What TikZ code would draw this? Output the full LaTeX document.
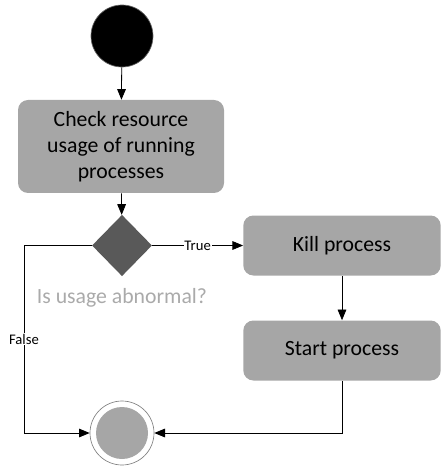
\documentclass[tikz,border=0pt]{standalone}
\usepackage{fontspec}
\setmainfont{Carlito}
\usetikzlibrary{arrows.meta,shapes.geometric}
\definecolor{boxgray}{HTML}{A6A6A6}
\definecolor{darkgray}{HTML}{595959}
\definecolor{lightgray}{HTML}{AAAAAA}
\begin{document}
\begin{tikzpicture}[x=0.75pt,y=-0.75pt,
  actbox/.style={draw=none,fill=boxgray,rounded corners=7.5pt,align=center,font=\fontsize{16.3}{19.5}\selectfont,inner sep=0pt},
  conn/.style={line width=0.6pt,-{Triangle[length=8pt,width=6.5pt]}},
  smalllabel/.style={font=\fontsize{11}{12}\selectfont,fill=white,inner sep=0.5pt}]
\useasboundingbox (0,0) rectangle (440,466);
\node[circle,fill=black,draw=black!60,line width=0.5pt,minimum size=46.5pt,inner sep=0pt] (start) at (122,36) {};
\node[actbox,minimum width=154.5pt,minimum height=69.75pt] (check) at (121,146.5) {Check resource\\usage of running\\processes};
\node[diamond,fill=darkgray,minimum width=45pt,minimum height=46pt,inner sep=0pt,aspect=1] (dec) at (122,245.5) {};
\node[font=\fontsize{16.3}{18}\selectfont,text=lightgray] (q) at (122,298) {Is usage abnormal?};
\node[actbox,minimum width=148pt,minimum height=45pt] (kill) at (342,245.5) {Kill process};
\node[actbox,minimum width=148pt,minimum height=45pt] (startp) at (342,350.5) {Start process};
\node[circle,draw=gray,line width=0.5pt,minimum size=48pt,inner sep=0pt] (endo) at (122,433) {};
\node[circle,fill=boxgray,minimum size=39pt,inner sep=0pt] (endi) at (122,433) {};
\draw[conn] (start) -- (check);
\draw[conn] (check) -- (dec);
\draw[conn] (dec.east) -- node[smalllabel]{True} (kill.west);
\draw[conn] (kill) -- (startp);
\draw[conn] (dec.west) -- (24,245.5) -- node[smalllabel,pos=0.5]{False} (24,433) -- (endo.west);
\draw[conn] (startp.south) -- (342,433) -- (endo.east);
\end{tikzpicture}
\end{document}
